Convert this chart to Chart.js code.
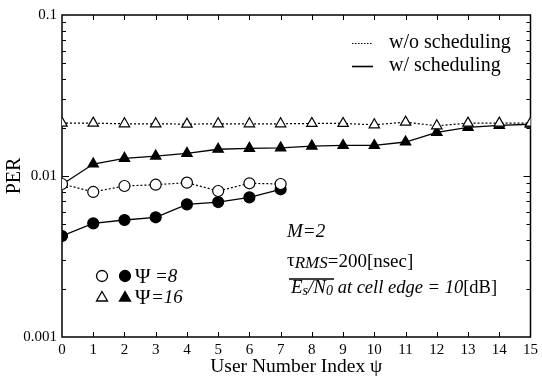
<!DOCTYPE html>
<html>
<head>
<meta charset="utf-8">
<script src="https://cdn.jsdelivr.net/npm/chart.js@4"></script>
<style>
  html, body { margin: 0; padding: 0; background: #fff; }
  #wrap { width: 542px; height: 376px; position: relative; }
</style>
</head>
<body>
<div id="wrap"><canvas id="c"></canvas></div>
<script>
// user number index psi
const userIdx = [0, 1, 2, 3, 4, 5, 6, 7, 8, 9, 10, 11, 12, 13, 14, 15]

// PER, Psi = 8 (only users 0..7)
const per8NoSched = [0.00892, 0.00796, 0.00867, 0.00883, 0.00909, 0.00807, 0.00901, 0.00892]
const per8Sched = [0.00424, 0.00508, 0.00533, 0.00554, 0.00667, 0.00689, 0.00737, 0.00827]

// PER, Psi = 16
const per16NoSched = [0.0213, 0.0213, 0.0211, 0.0211, 0.0210, 0.0211, 0.0211, 0.0211,
  0.0212, 0.0212, 0.0208, 0.0216, 0.0205, 0.0213, 0.0213, 0.0213]
const per16Sched = [0.00886, 0.01187, 0.01288, 0.0133, 0.01383, 0.01466, 0.01486, 0.01496,
  0.01535, 0.01548, 0.01548, 0.01626, 0.01868, 0.02007, 0.02064, 0.02096]

const yMajor = [0.001, 0.01, 0.1]

const SERIF = '"Liberation Serif", "DejaVu Serif", serif'
const pts = (vals) => vals.map((v, i) => ({ x: userIdx[i], y: v }))

function ds(vals, style, filled, dotted) {
  return {
    data: pts(vals),
    borderColor: '#000',
    borderWidth: dotted ? 1.2 : 1.3,
    borderDash: dotted ? [2, 2] : [],
    pointStyle: style,
    pointRadius: style === 'triangle' ? 6 : 5.5,
    pointBorderWidth: 1.2,
    pointBorderColor: '#000',
    pointBackgroundColor: filled ? '#000' : '#fff',
    tension: 0,
  }
}

// frame, inward ticks, legend and annotations
const decor = {
  id: 'decor',
  beforeDatasetsDraw(chart) {
    const { ctx, chartArea: a, scales } = chart
    const xs = scales.x, ys = scales.y
    ctx.save()
    ctx.strokeStyle = '#000'
    ctx.lineWidth = 1.5
    ctx.strokeRect(a.left, a.top, a.right - a.left, a.bottom - a.top)
    ctx.lineWidth = 1
    ctx.beginPath()
    for (let i = 1; i < 15; i++) {
      const px = Math.round(xs.getPixelForValue(i)) + 0.5
      ctx.moveTo(px, a.bottom); ctx.lineTo(px, a.bottom - 5)
      ctx.moveTo(px, a.top); ctx.lineTo(px, a.top + 5)
    }
    for (const dec of [0.001, 0.01]) {
      for (let m = 1; m < 10; m++) {
        const v = dec * m
        if (v <= 0.001) continue
        const py = Math.round(ys.getPixelForValue(v)) + 0.5
        const len = m === 1 ? 7 : 4
        ctx.moveTo(a.left, py); ctx.lineTo(a.left + len, py)
        ctx.moveTo(a.right, py); ctx.lineTo(a.right - len, py)
      }
    }
    ctx.stroke()
    ctx.restore()
  },
  afterDatasetsDraw(chart) {
    const { ctx } = chart
    ctx.save()
    ctx.fillStyle = '#000'
    ctx.strokeStyle = '#000'
    ctx.textBaseline = 'middle'
    ctx.font = `20px ${SERIF}`

    // line-style legend
    ctx.lineWidth = 1.2
    ctx.setLineDash([1.5, 1.5])
    ctx.beginPath(); ctx.moveTo(352, 43.5); ctx.lineTo(373, 43.5); ctx.stroke()
    ctx.setLineDash([])
    ctx.lineWidth = 1.6
    ctx.beginPath(); ctx.moveTo(352, 66.5); ctx.lineTo(373, 66.5); ctx.stroke()
    ctx.fillText('w/o scheduling', 389, 43)
    ctx.fillText('w/ scheduling', 389, 66)

    // marker legend
    const marker = (style, x, y, filled) => {
      ctx.lineWidth = 1.3
      ctx.fillStyle = filled ? '#000' : '#fff'
      ctx.beginPath()
      if (style === 'circle') {
        ctx.arc(x, y, 5.5, 0, Math.PI * 2)
      } else {
        ctx.moveTo(x, y - 5.5); ctx.lineTo(x + 5.5, y + 4); ctx.lineTo(x - 5.5, y + 4); ctx.closePath()
      }
      ctx.fill(); ctx.stroke()
      ctx.fillStyle = '#000'
    }
    marker('circle', 102, 276, false)
    marker('circle', 125, 276, true)
    marker('triangle', 102, 297, false)
    marker('triangle', 125, 297, true)
    ctx.font = `21px ${SERIF}`
    ctx.fillText('Ψ', 135, 277)
    ctx.fillText('Ψ', 135, 298)
    ctx.font = `italic 19px ${SERIF}`
    ctx.fillText('=8', 155, 277)
    ctx.fillText('=16', 151, 298)

    // annotations
    ctx.font = `italic 19px ${SERIF}`
    ctx.fillText('M=2', 287, 232)

    let x = 287
    ctx.font = `19px ${SERIF}`
    ctx.fillText('τ', x, 261); x += ctx.measureText('τ').width
    ctx.font = `italic 17px ${SERIF}`
    ctx.fillText('RMS', x, 264); x += ctx.measureText('RMS').width
    ctx.font = `19px ${SERIF}`
    ctx.fillText('=200[nsec]', x, 262)

    x = 291
    const yb = 288
    ctx.font = `italic 19px ${SERIF}`
    ctx.fillText('E', x, yb); x += ctx.measureText('E').width
    ctx.font = `italic 14px ${SERIF}`
    ctx.fillText('s', x, yb + 3); x += ctx.measureText('s').width
    ctx.font = `italic 19px ${SERIF}`
    ctx.fillText('/N', x, yb); x += ctx.measureText('/N').width
    ctx.font = `italic 14px ${SERIF}`
    ctx.fillText('0', x, yb + 3); x += ctx.measureText('0').width
    ctx.lineWidth = 1.6
    ctx.beginPath(); ctx.moveTo(289, 279); ctx.lineTo(x + 1, 279); ctx.stroke()
    ctx.font = `italic 18.5px ${SERIF}`
    const mid = ' at cell edge = 10'
    ctx.fillText(mid, x, yb); x += ctx.measureText(mid).width
    ctx.font = `18.5px ${SERIF}`
    ctx.fillText('[dB]', x, yb)
    ctx.restore()
  },
}

new Chart(document.getElementById('c'), {
  type: 'line',
  data: {
    datasets: [
      ds(per8NoSched, 'circle', false, true),
      ds(per8Sched, 'circle', true, false),
      ds(per16NoSched, 'triangle', false, true),
      ds(per16Sched, 'triangle', true, false),
    ],
  },
  options: {
    responsive: true,
    maintainAspectRatio: false,
    animation: false,
    layout: { padding: { top: 15, right: 9, left: 0, bottom: 0 } },
    plugins: { legend: { display: false }, tooltip: { enabled: false } },
    scales: {
      x: {
        type: 'linear',
        min: 0,
        max: 15,
        grid: { display: false, drawTicks: false },
        border: { display: false },
        ticks: { stepSize: 1, color: '#000', padding: 4, font: { family: SERIF, size: 15 } },
        title: { display: true, text: 'User Number Index ψ', color: '#000', font: { family: SERIF, size: 19.5 }, padding: { top: 0, bottom: -3 } },
        afterFit: (s) => { s.height = 39 },
      },
      y: {
        type: 'logarithmic',
        min: 0.001,
        max: 0.1,
        grid: { display: false, drawTicks: false },
        border: { display: false },
        afterBuildTicks: (s) => { s.ticks = yMajor.map(v => ({ value: v })) },
        ticks: {
          color: '#000',
          padding: 5,
          font: { family: SERIF, size: 15 },
          callback: (v) => String(v),
        },
        title: { display: true, text: 'PER', color: '#000', font: { family: SERIF, size: 20 }, padding: { top: 3, bottom: 0 } },
        afterFit: (s) => { s.width = 62 },
      },
    },
  },
  plugins: [decor],
})
</script>
</body>
</html>
